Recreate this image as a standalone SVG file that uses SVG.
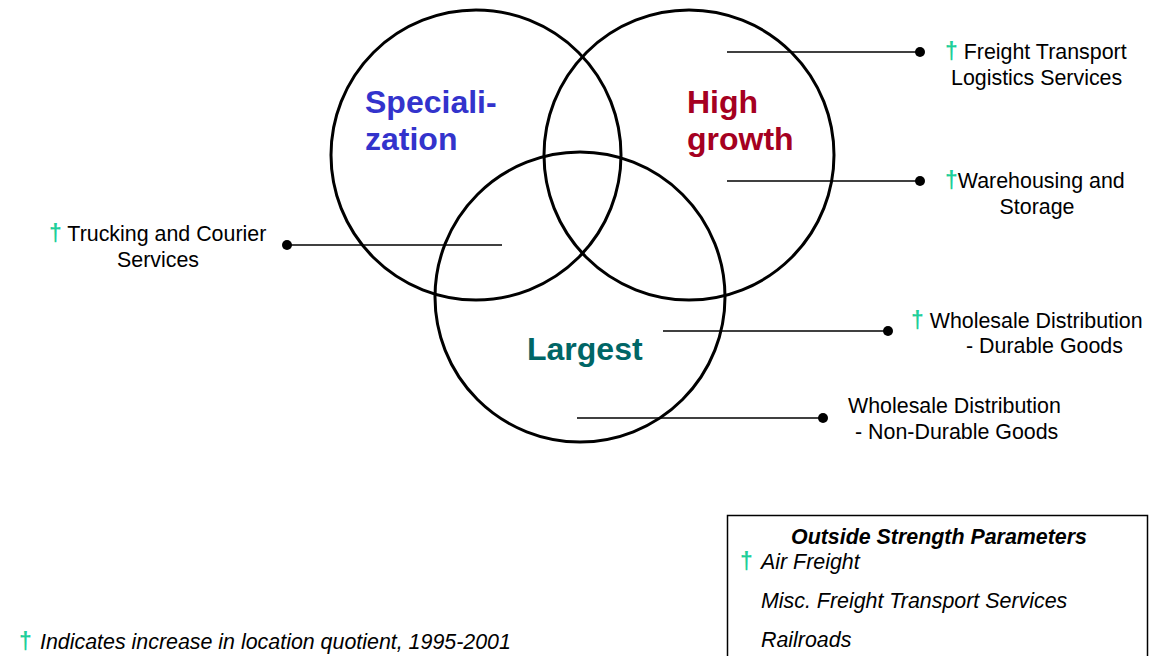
<svg xmlns="http://www.w3.org/2000/svg" width="1149" height="656" viewBox="0 0 1149 656">
  <style>
    .ring { fill: none; stroke: #000; stroke-width: 3; }
    .lead { stroke: #000; stroke-width: 1.5; fill: none; }
    .dot { fill: #000; }
    .title { font-family: "Liberation Sans", Arial, sans-serif; font-size: 32px; font-weight: bold; }
    .lbl { font-family: "Liberation Sans", Arial, sans-serif; font-size: 21.4px; fill: #000; }
    .it { font-style: italic; }
    .bi { font-style: italic; font-weight: bold; }
    .dag { fill: #1fcf9a; font-weight: bold; font-size: 23px; }
  </style>
  <rect width="1149" height="656" fill="#fff"/>

  <!-- three overlapping category rings -->
  <g id="specialization">
    <circle class="ring" cx="476" cy="155" r="145"/>
    <text class="title" fill="#3333cc" x="365" y="113">Speciali-</text>
    <text class="title" fill="#3333cc" x="365" y="150">zation</text>
  </g>
  <g id="high-growth">
    <circle class="ring" cx="689" cy="155" r="145"/>
    <text class="title" fill="#a50021" x="687" y="113">High</text>
    <text class="title" fill="#a50021" x="687" y="150">growth</text>
  </g>
  <g id="largest">
    <circle class="ring" cx="580" cy="297" r="145"/>
    <text class="title" fill="#006666" x="527" y="360">Largest</text>
  </g>

  <!-- leader lines with end dots -->
  <g id="connectors">
    <line class="lead" x1="727" y1="52" x2="920" y2="52"/>
    <circle class="dot" cx="920" cy="52" r="5"/>
    <line class="lead" x1="727" y1="181" x2="920" y2="181"/>
    <circle class="dot" cx="920" cy="181" r="5"/>
    <line class="lead" x1="287" y1="245" x2="502" y2="245"/>
    <circle class="dot" cx="287" cy="245" r="5"/>
    <line class="lead" x1="663" y1="331" x2="888" y2="331"/>
    <circle class="dot" cx="888" cy="331" r="5"/>
    <line class="lead" x1="577" y1="418" x2="823" y2="418"/>
    <circle class="dot" cx="823" cy="418" r="5"/>
  </g>

  <g id="freight-transport">
    <text class="lbl" x="945" y="59"><tspan class="dag">†</tspan> Freight Transport</text>
    <text class="lbl" x="951" y="85">Logistics Services</text>
  </g>
  <g id="warehousing">
    <text class="lbl" x="945" y="188"><tspan class="dag">†</tspan>Warehousing and</text>
    <text class="lbl" x="1037" y="214" text-anchor="middle">Storage</text>
  </g>
  <g id="trucking">
    <text class="lbl" x="49" y="241"><tspan class="dag">†</tspan> Trucking and Courier</text>
    <text class="lbl" x="158" y="267" text-anchor="middle">Services</text>
  </g>
  <g id="wholesale-durable">
    <text class="lbl" x="911" y="328"><tspan class="dag">†</tspan> Wholesale Distribution</text>
    <text class="lbl" x="966" y="353">- Durable Goods</text>
  </g>
  <g id="wholesale-nondurable">
    <text class="lbl" x="848" y="413">Wholesale Distribution</text>
    <text class="lbl" x="855" y="439">- Non-Durable Goods</text>
  </g>

  <!-- outside strength parameters box -->
  <g id="outside-box">
    <rect x="727.5" y="515.5" width="420" height="160" fill="none" stroke="#000" stroke-width="1.5"/>
    <text class="lbl bi" x="939" y="544" text-anchor="middle">Outside Strength Parameters</text>
    <text class="lbl" x="740" y="569"><tspan class="dag">†</tspan></text>
    <text class="lbl it" x="761" y="569">Air Freight</text>
    <text class="lbl it" x="761" y="608">Misc. Freight Transport Services</text>
    <text class="lbl it" x="761" y="647">Railroads</text>
  </g>

  <g id="legend">
    <text class="lbl" x="19" y="649"><tspan class="dag">†</tspan></text>
    <text class="lbl it" x="40" y="649">Indicates increase in location quotient, 1995-2001</text>
  </g>
</svg>
